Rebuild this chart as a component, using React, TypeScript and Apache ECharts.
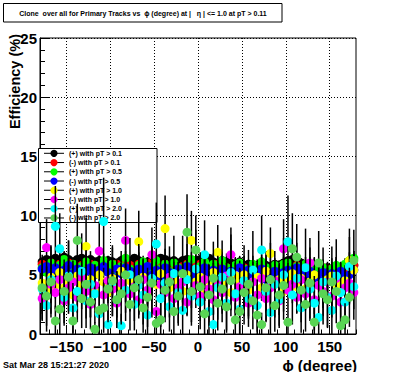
import React, { useEffect, useRef } from "react";
import * as echarts from "echarts";

// bin centres of phi (degree)
const PHI = [
  -177.5, -172.5, -167.5, -162.5, -157.5, -152.5, -147.5, -142.5, -137.5, -132.5, -127.5, -122.5,
  -117.5, -112.5, -107.5, -102.5, -97.5, -92.5, -87.5, -82.5, -77.5, -72.5, -67.5, -62.5,
  -57.5, -52.5, -47.5, -42.5, -37.5, -32.5, -27.5, -22.5, -17.5, -12.5, -7.5, -2.5,
  2.5, 7.5, 12.5, 17.5, 22.5, 27.5, 32.5, 37.5, 42.5, 47.5, 52.5, 57.5,
  62.5, 67.5, 72.5, 77.5, 82.5, 87.5, 92.5, 97.5, 102.5, 107.5, 112.5, 117.5,
  122.5, 127.5, 132.5, 137.5, 142.5, 147.5, 152.5, 157.5, 162.5, 167.5, 172.5, 177.5,
];

const X_MAJOR = [-150, -100, -50, 0, 50, 100, 150];

const SERIES_NAMES = [
  "(+) with pT > 0.1",
  "(-) with pT > 0.1",
  "(+) with pT > 0.5",
  "(-) with pT > 0.5",
  "(+) with pT > 1.0",
  "(-) with pT > 1.0",
  "(+) with pT > 2.0",
  "(-) with pT > 2.0",
];

const plus01 = [
  6.1, 6.3, 6.2, 6.4, 6.2, 6.5, 6.3, 6.1, 6.3, 6.4, 6.2, 6.3, 6.1, 6.2, 6.0, 6.2,
  6.1, 6.0, 6.2, 6.3, 6.1, 6.4, 6.2, 6.0, 6.1, 6.3,
  6.2, 6.4, 6.3, 6.1, 6.2, 6.0, 6.2, 6.3, 6.1, 6.2,
  6.3, 6.2, 6.4, 6.1, 6.0, 6.2, 6.1, 6.0, 5.9, 6.1,
  5.8, 5.9, 5.7, 5.8, 5.6, 5.8, 5.7, 5.9, 5.8, 6.0,
  6.2, 6.3, 6.1, 6.0, 5.8, 5.6, 5.5, 5.6, 5.5, 5.6,
  5.4, 5.3, 5.2, 5.4, 5.6, 5.8,
];
const plus01Err = [
  0.3, 0.3, 0.2, 0.3, 0.3, 0.4, 0.3, 0.2, 0.3, 0.3, 0.3, 0.4, 0.3, 0.3, 0.2, 0.3,
  0.3, 0.3, 0.4, 0.3, 0.3, 0.3, 0.2, 0.3, 0.3, 0.4,
  0.3, 0.3, 0.3, 0.2, 0.3, 0.3, 0.4, 0.3, 0.3, 0.3,
  0.3, 0.2, 0.3, 0.3, 0.4, 0.3, 0.3, 0.3, 0.2, 0.3,
  0.3, 0.4, 0.3, 0.3, 0.3, 0.2, 0.3, 0.3, 0.4, 0.3,
  0.3, 0.3, 0.2, 0.3, 0.3, 0.4, 0.3, 0.3, 0.3, 0.2,
  0.3, 0.3, 0.4, 0.3, 0.3, 0.3,
];

const minus01 = [
  5.9, 5.8, 6.0, 5.7, 5.9, 5.8, 6.0, 5.9, 5.7, 5.8, 6.0, 5.9, 5.8, 5.6, 5.9, 5.8,
  5.7, 5.9, 5.8, 6.0, 5.8, 5.7, 5.9, 5.8, 6.0, 5.9,
  5.8, 5.7, 5.9, 5.6, 5.8, 5.5, 5.7, 5.9, 5.8, 5.7,
  5.9, 5.8, 5.6, 5.7, 5.9, 5.8, 5.6, 5.5, 5.7, 5.8,
  5.6, 5.5, 5.7, 5.4, 5.6, 5.5, 5.3, 5.6, 5.4, 5.6,
  5.7, 5.5, 5.8, 5.6, 5.4, 5.5, 5.3, 5.4, 5.6, 5.5,
  5.3, 5.5, 5.4, 5.6, 5.7, 5.8,
];
const minus01Err = [
  0.3, 0.4, 0.3, 0.3, 0.2, 0.3, 0.3, 0.4, 0.3, 0.3, 0.3, 0.2, 0.3, 0.4, 0.3, 0.3,
  0.3, 0.2, 0.3, 0.3, 0.4, 0.3, 0.3, 0.3, 0.2, 0.3,
  0.4, 0.3, 0.3, 0.3, 0.2, 0.3, 0.3, 0.4, 0.3, 0.3,
  0.2, 0.3, 0.3, 0.4, 0.3, 0.3, 0.3, 0.2, 0.3, 0.3,
  0.4, 0.3, 0.3, 0.2, 0.3, 0.3, 0.4, 0.3, 0.3, 0.3,
  0.2, 0.3, 0.4, 0.3, 0.3, 0.3, 0.2, 0.3, 0.3, 0.4,
  0.3, 0.3, 0.3, 0.2, 0.3, 0.3,
];

const plus05 = [
  5.6, 5.2, 6.0, 5.4, 5.8, 6.3, 5.5, 5.9, 5.1, 5.7, 6.1, 5.4, 5.8, 5.3, 6.2, 5.6,
  5.9, 5.2, 5.7, 6.4, 5.5, 5.0, 5.8, 6.1, 5.4, 5.7,
  6.2, 5.5, 5.9, 5.3, 6.0, 5.6, 5.2, 5.8, 6.3, 5.5,
  5.7, 6.1, 5.4, 5.9, 5.2, 6.2, 5.6, 5.3, 5.8, 6.0,
  5.5, 5.1, 5.9, 5.4, 6.1, 5.6, 5.2, 5.8, 5.5, 5.9,
  6.0, 5.4, 5.7, 5.2, 5.9, 5.5, 5.8, 5.3, 5.6, 5.2,
  5.5, 5.8, 5.3, 5.9, 6.2, 6.4,
];
const plus05Err = [
  0.6, 0.7, 0.5, 0.8, 0.6, 0.7, 0.6, 0.5, 0.8, 0.6, 0.7, 0.6, 0.5, 0.7, 0.6, 0.8,
  0.6, 0.7, 0.5, 0.6, 0.8, 0.7, 0.6, 0.5, 0.7, 0.6,
  0.6, 0.8, 0.7, 0.6, 0.5, 0.7, 0.6, 0.8, 0.6, 0.7,
  0.5, 0.6, 0.7, 0.8, 0.6, 0.7, 0.5, 0.6, 0.7, 0.6,
  0.8, 0.6, 0.7, 0.5, 0.6, 0.7, 0.8, 0.6, 0.7, 0.6,
  0.5, 0.7, 0.6, 0.8, 0.6, 0.7, 0.6, 0.5, 0.7, 0.8,
  0.6, 0.7, 0.6, 0.5, 0.7, 0.6,
];

const minus05 = [
  5.5, 5.7, 5.2, 5.6, 4.9, 5.4, 5.8, 5.1, 5.5, 4.7, 5.3, 5.6, 5.0, 5.4, 5.7, 5.2,
  4.8, 5.5, 5.1, 5.6, 5.3, 4.9, 5.5, 5.2, 5.7, 5.0,
  5.4, 4.6, 5.6, 5.2, 4.9, 5.5, 5.1, 5.7, 5.3, 4.8,
  5.2, 5.6, 5.0, 5.4, 4.7, 5.5, 5.1, 5.3, 4.9, 5.6,
  5.0, 5.4, 4.8, 5.2, 5.5, 4.6, 5.1, 5.3, 4.9, 5.2,
  5.4, 4.8, 5.6, 5.1, 4.7, 5.3, 5.0, 4.6, 5.2, 4.8,
  5.1, 4.9, 5.3, 4.7, 5.0, 5.4,
];
const minus05Err = [
  0.7, 0.6, 0.8, 0.6, 0.7, 0.5, 0.6, 0.8, 0.7, 0.6, 0.6, 0.7, 0.8, 0.6, 0.5, 0.7,
  0.6, 0.8, 0.7, 0.6, 0.7, 0.5, 0.6, 0.7, 0.8, 0.6,
  0.7, 0.6, 0.5, 0.7, 0.8, 0.6, 0.7, 0.6, 0.5, 0.7,
  0.6, 0.7, 0.8, 0.6, 0.7, 0.6, 0.5, 0.8, 0.7, 0.6,
  0.7, 0.5, 0.6, 0.8, 0.7, 0.6, 0.7, 0.6, 0.8, 0.5,
  0.6, 0.7, 0.6, 0.7, 0.8, 0.6, 0.5, 0.7, 0.6, 0.8,
  0.7, 0.6, 0.7, 0.5, 0.6, 0.7,
];

const plus10 = [
  4.3, 3.6, 4.8, 4.1, 5.2, 3.9, 4.5, 3.3, 4.9, 4.2, 7.4, 4.6, 3.8, 5.0, 4.4, 3.5,
  4.7, 4.0, 5.3, 3.7, 4.5, 4.1, 7.8, 4.8, 3.4, 4.6,
  4.2, 5.1, 8.9, 3.9, 4.7, 4.3, 3.6, 5.0, 7.9, 4.4,
  4.8, 3.8, 4.5, 5.2, 6.9, 4.0, 4.6, 3.5, 4.9, 4.3,
  5.0, 3.7, 4.4, 4.8, 3.9, 5.3, 6.8, 4.2, 4.6, 3.6,
  4.5, 5.1, 4.0, 4.7, 3.8, 4.4, 5.0, 4.1, 3.5, 4.6,
  4.9, 4.2, 3.8, 4.5, 6.2, 5.4,
];
const plus10Err = [
  1.2, 0.9, 1.4, 1.1, 1.6, 1.0, 1.3, 0.9, 1.5, 1.2, 2.4, 1.3, 1.0, 1.6, 1.2, 0.9,
  1.4, 1.1, 1.7, 1.0, 1.3, 1.2, 2.6, 1.5, 0.9, 1.4,
  1.2, 1.6, 2.8, 1.1, 1.4, 1.3, 1.0, 1.5, 2.5, 1.2,
  1.5, 1.0, 1.3, 1.6, 2.3, 1.1, 1.4, 0.9, 1.5, 1.2,
  1.6, 1.0, 1.3, 1.5, 1.1, 1.7, 2.2, 1.2, 1.4, 1.0,
  1.3, 1.6, 1.1, 1.4, 1.0, 1.3, 1.5, 1.2, 0.9, 1.4,
  1.5, 1.2, 1.0, 1.3, 2.0, 1.6,
];

const minus10 = [
  3.0, 7.3, 4.2, 3.5, 4.6, 2.8, 3.9, 4.4, 3.1, 4.8, 3.6, 2.5, 4.1, 7.0, 3.3, 4.5,
  3.8, 2.6, 4.3, 7.9, 3.4, 4.0, 2.9, 4.6, 3.7, 6.7,
  1.9, 4.2, 3.5, 4.8, 3.0, 3.9, 4.4, 2.7, 3.6, 4.1,
  3.2, 4.6, 3.8, 2.9, 4.3, 3.5, 4.9, 6.7, 3.1, 4.0,
  3.6, 2.6, 4.4, 3.3, 4.7, 3.0, 3.9, 4.5, 2.8, 7.2,
  3.7, 4.2, 3.1, 4.6, 3.4, 6.0, 2.9, 4.1, 3.6, 4.4,
  3.2, 4.7, 2.7, 3.9, 4.3, 3.5,
];
const minus10Err = [
  1.3, 2.4, 1.6, 1.4, 1.7, 1.2, 1.5, 1.8, 1.3, 1.9, 1.4, 1.1, 1.6, 2.5, 1.3, 1.7,
  1.5, 1.2, 1.7, 2.7, 1.4, 1.6, 1.2, 1.8, 1.5, 2.3,
  1.0, 1.6, 1.4, 1.8, 1.2, 1.5, 1.7, 1.2, 1.4, 1.6,
  1.3, 1.8, 1.5, 1.2, 1.7, 1.4, 1.9, 2.3, 1.3, 1.6,
  1.4, 1.1, 1.7, 1.3, 1.8, 1.2, 1.5, 1.7, 1.2, 2.5,
  1.5, 1.6, 1.3, 1.8, 1.4, 2.1, 1.2, 1.6, 1.4, 1.7,
  1.3, 1.8, 1.1, 1.5, 1.7, 1.4,
];

const plus20 = [
  3.8, 2.4, 4.6, 9.1, 7.2, 3.1, 4.9, 2.2, 3.6, 5.3, 2.8, 4.2, 3.4, 1.7, 9.5, 0.8,
  4.4, 2.9, 0.7, 3.7, 5.0, 2.5, 4.1, 3.3, 1.6, 4.7,
  7.6, 3.0, 4.3, 2.3, 5.1, 3.5, 2.0, 4.6, 3.2, 5.5,
  2.7, 6.7, 1.9, 0.8, 3.9, 4.8, 2.6, 5.2, 3.4, 2.1,
  4.5, 3.0, 5.4, 2.4, 7.1, 3.6, 1.8, 4.2, 2.9, 5.0,
  7.8, 3.3, 4.7, 2.2, 5.6, 3.8, 2.6, 1.4, 4.4, 3.1,
  2.0, 4.9, 3.5, 2.7, 5.7, 4.0,
];
const plus20Err = [
  2.6, 2.2, 2.9, 3.4, 3.0, 2.4, 3.0, 2.1, 2.6, 3.2, 2.3, 2.8, 2.5, 1.8, 3.7, 1.2,
  2.9, 2.4, 1.0, 2.6, 3.1, 2.2, 2.8, 2.5, 1.8, 3.0,
  3.5, 2.4, 2.9, 2.1, 3.2, 2.6, 2.0, 3.0, 2.5, 3.3,
  2.3, 2.9, 2.0, 1.2, 2.7, 3.1, 2.3, 3.2, 2.6, 2.1,
  3.0, 2.4, 3.3, 2.2, 2.9, 2.6, 1.9, 2.8, 2.4, 3.1,
  3.9, 2.5, 3.0, 2.1, 3.3, 2.7, 2.3, 1.6, 2.9, 2.5,
  2.1, 3.1, 2.6, 2.3, 3.2, 2.8,
];

const minus20 = [
  3.9, 3.2, 4.4, 1.1, 2.1, 3.6, 4.8, 1.1, 7.9, 3.0, 4.2, 2.7, 0.4, 2.0, 2.2, 3.8,
  4.5, 2.9, 3.4, 5.0, 2.5, 3.9, 4.6, 2.2, 3.1, 4.3,
  0.9, 1.2, 3.7, 4.4, 1.9, 3.2, 5.1, 8.6, 3.6, 7.1,
  4.0, 1.7, 3.3, 4.7, 2.6, 3.8, 2.3, 4.5, 1.2, 1.9,
  3.5, 4.2, 2.8, 1.6, 0.8, 3.9, 4.6, 2.4, 3.3, 4.1,
  1.0, 7.2, 6.5, 3.7, 2.5, 4.3, 1.0, 6.0, 3.4, 2.9,
  4.4, 3.6, 0.7, 1.2, 3.1, 6.2,
];
const minus20Err = [
  2.8, 2.5, 3.0, 1.3, 2.1, 2.7, 3.1, 1.3, 3.1, 2.5, 2.9, 2.3, 0.6, 2.0, 2.1, 2.8,
  3.0, 2.4, 2.6, 3.2, 2.2, 2.8, 3.0, 2.1, 2.5, 2.9,
  1.1, 1.4, 2.7, 3.0, 2.0, 2.5, 3.2, 3.2, 2.6, 2.9,
  2.9, 1.9, 2.6, 3.1, 2.3, 2.8, 2.2, 3.0, 1.4, 2.0,
  2.7, 2.9, 2.4, 1.8, 1.0, 2.8, 3.1, 2.2, 2.6, 2.9,
  1.2, 3.0, 2.8, 2.7, 2.3, 3.0, 1.2, 2.7, 2.6, 2.4,
  3.0, 2.7, 0.9, 1.4, 2.5, 2.6,
];

const VALUES = [plus01, minus01, plus05, minus05, plus10, minus10, plus20, minus20];
const ERRORS = [plus01Err, minus01Err, plus05Err, minus05Err, plus10Err, minus10Err, plus20Err, minus20Err];
const COLORS = ["#000000", "#ff0000", "#00ff00", "#0000ff", "#ffff00", "#ff00ff", "#00ffff", "#59d454"];

const TITLE = "Clone  over all for Primary Tracks vs  \u03d5 (degree) at |   \u03b7 | <= 1.0 at pT > 0.11";
const Y_TITLE = "Efficiency (%)";
const X_TITLE = "\u03d5 (degree)";
const DATE_TEXT = "Sat Mar 28 15:21:27 2020";

const FONT = '"Liberation Sans", Arial, Helvetica, sans-serif';

export default function App() {
  const ref = useRef<HTMLDivElement>(null);

  useEffect(() => {
    if (!ref.current) return;
    const chart = echarts.init(ref.current, undefined, { renderer: "svg" });

    const series: any[] = [];
    VALUES.forEach((vals, si) => {
      const errData = PHI.map((p, i) => [p, vals[i], ERRORS[si][i]]);
      series.push({
        type: "custom",
        name: SERIES_NAMES[si] + " err",
        xAxisIndex: 0,
        yAxisIndex: 0,
        z: 3 + si * 2,
        clip: true,
        silent: true,
        data: errData,
        renderItem: (_params: any, api: any) => {
          const x = api.value(0);
          const y = api.value(1);
          const e = api.value(2);
          const top = api.coord([x, Math.min(25, y + e)]);
          const bot = api.coord([x, Math.max(0, y - e)]);
          return {
            type: "line",
            shape: { x1: top[0], y1: top[1], x2: bot[0], y2: bot[1] },
            style: { stroke: "#000", lineWidth: 1.5 },
          };
        },
      });
      series.push({
        type: "scatter",
        name: SERIES_NAMES[si],
        xAxisIndex: 0,
        yAxisIndex: 0,
        z: 4 + si * 2,
        symbol: "circle",
        symbolSize: 9,
        itemStyle: { color: COLORS[si], opacity: 1 },
        data: PHI.map((p, i) => [p, vals[i]]),
      });
    });

    const legendTop = 153.3;
    const legendStep = 9.24;
    const legendEls: any[] = [
      {
        type: "rect",
        z: 1,
        shape: { x: 38.5, y: 148.5, width: 118.5, height: 74 },
        style: { fill: "#ffffff", stroke: "#000", lineWidth: 1 },
      },
    ];
    SERIES_NAMES.forEach((name, si) => {
      const cy = legendTop + si * legendStep;
      legendEls.push({
        type: "line",
        z: 1,
        shape: { x1: 44, y1: cy, x2: 64, y2: cy },
        style: { stroke: "#000", lineWidth: 1 },
      });
      legendEls.push({
        type: "circle",
        z: 1,
        shape: { cx: 54, cy, r: 3.6 },
        style: { fill: COLORS[si] },
      });
      legendEls.push({
        type: "text",
        z: 1,
        x: 69,
        y: cy,
        style: {
          text: name,
          fontFamily: FONT,
          fontWeight: "bold",
          fontSize: 7,
          fill: "#000",
          align: "left",
          verticalAlign: "middle",
        },
      });
    });

    const option: any = {
      animation: false,
      backgroundColor: "#ffffff",
      grid: {
        left: 40,
        right: 40,
        top: 38,
        bottom: 38,
        show: true,
        borderColor: "#000",
        borderWidth: 1,
        backgroundColor: "transparent",
      },
      xAxis: [
        {
          type: "value",
          min: -180,
          max: 180,
          position: "bottom",
          axisLine: { show: true, onZero: false, lineStyle: { color: "#000", width: 1 } },
          axisTick: { show: true, inside: true, length: 9, customValues: X_MAJOR, lineStyle: { color: "#000" } },
          axisLabel: {
            show: true,
            customValues: X_MAJOR,
            color: "#000",
            fontFamily: FONT,
            fontWeight: "bold",
            fontSize: 15,
            margin: 5,
            formatter: (v: number) => (v < 0 ? "\u2212" + Math.abs(v) : String(v)),
          },
          splitLine: { show: true, lineStyle: { color: "#000", type: [1, 2], width: 1 } },
        },
        {
          type: "value",
          min: -180,
          max: 180,
          interval: 10,
          position: "bottom",
          axisLine: { show: false },
          axisTick: { show: true, inside: true, length: 4.5, lineStyle: { color: "#000" } },
          axisLabel: { show: false },
          splitLine: { show: false },
        },
      ],
      yAxis: [
        {
          type: "value",
          min: 0,
          max: 25,
          interval: 5,
          axisLine: { show: true, onZero: false, lineStyle: { color: "#000", width: 1 } },
          axisTick: { show: true, inside: true, length: 10, lineStyle: { color: "#000" } },
          minorTick: { show: true, splitNumber: 5, length: 5, lineStyle: { color: "#000" } },
          axisLabel: {
            show: true,
            color: "#000",
            fontFamily: FONT,
            fontWeight: "bold",
            fontSize: 15,
            margin: 3,
          },
          splitLine: { show: true, lineStyle: { color: "#000", type: [1, 2], width: 1 } },
        },
      ],
      graphic: {
        elements: [
          {
            type: "rect",
            z: 1,
            shape: { x: 3.5, y: 3.5, width: 278.5, height: 18.5 },
            style: { fill: "#ffffff", stroke: "#000", lineWidth: 1 },
          },
          {
            type: "text",
            z: 1,
            x: 143,
            y: 13,
            style: {
              text: TITLE,
              fontFamily: FONT,
              fontWeight: "bold",
              fontSize: 7,
              fill: "#000",
              align: "center",
              verticalAlign: "middle",
            },
          },
          {
            type: "text",
            z: 1,
            x: 15,
            y: 34,
            rotation: Math.PI / 2,
            style: {
              text: Y_TITLE,
              fontFamily: FONT,
              fontWeight: "bold",
              fontSize: 14.5,
              fill: "#000",
              align: "right",
              verticalAlign: "middle",
            },
          },
          {
            type: "text",
            z: 1,
            x: 357,
            y: 365,
            style: {
              text: X_TITLE,
              fontFamily: FONT,
              fontWeight: "bold",
              fontSize: 15,
              fill: "#000",
              align: "right",
              verticalAlign: "middle",
            },
          },
          {
            type: "text",
            z: 1,
            x: 3,
            y: 365,
            style: {
              text: DATE_TEXT,
              fontFamily: FONT,
              fontWeight: "bold",
              fontSize: 9,
              fill: "#000",
              align: "left",
              verticalAlign: "middle",
            },
          },
          ...legendEls,
        ],
      },
      series,
    };

    chart.setOption(option);
    return () => chart.dispose();
  }, []);

  return (
    <div
      ref={ref}
      style={{ position: "fixed", left: 0, top: 0, width: 396, height: 372, background: "#fff" }}
    />
  );
}
